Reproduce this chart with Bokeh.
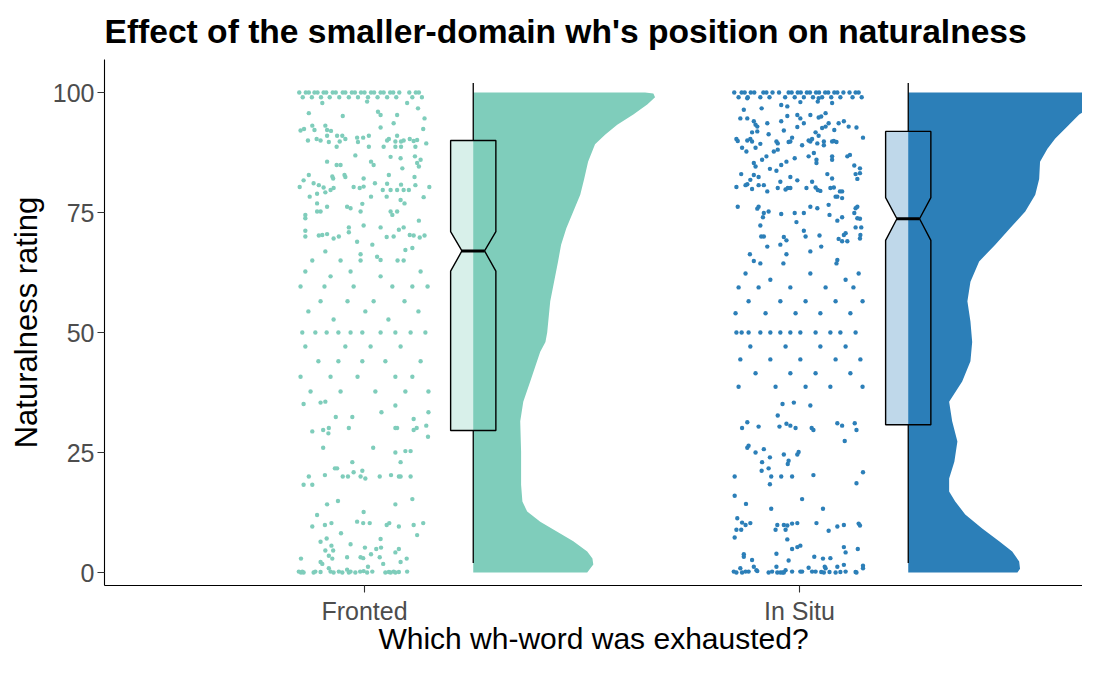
from bokeh.plotting import figure
from bokeh.models import Range1d, FixedTicker
from bokeh.embed import file_html
from bokeh.resources import INLINE

groups = ["Fronted", "In Situ"]
positions = [1, 2]
colors = ["#7fcdbb", "#2c7fb8"]

# raw ratings with their horizontal jitter (offset from the group position)
fronted_points = [
    # band at 100
    (-0.150, 100), (-0.142, 99), (-0.135, 100), (-0.128, 100), (-0.121, 99), (-0.115, 100),
    (-0.108, 100), (-0.100, 99), (-0.094, 100), (-0.088, 100), (-0.080, 99), (-0.073, 100),
    (-0.066, 100), (-0.058, 99), (-0.050, 100), (-0.044, 100), (-0.036, 99), (-0.029, 100),
    (-0.022, 100), (-0.015, 99), (-0.008, 100), (0.000, 100), (0.008, 99), (0.015, 100),
    (0.022, 100), (0.030, 99), (0.037, 100), (0.044, 100), (0.052, 99), (0.059, 100),
    (0.066, 100), (0.073, 99), (0.080, 100), (0.103, 100), (0.110, 99), (0.118, 100),
    (0.125, 100), (0.132, 99),
    # 65 - 99
    (-0.097, 97.8), (0.006, 98.1), (0.098, 97.8), (0.123, 96.7), (-0.128, 95.7), (-0.050, 95.1),
    (0.031, 96.0), (0.037, 95.3), (0.075, 95.3), (0.138, 94.6), (0.067, 93.6), (-0.120, 93.1),
    (-0.090, 93.1), (-0.147, 92.1), (-0.139, 92.4), (-0.115, 92.2), (-0.086, 92.2), (-0.077, 92.0),
    (0.037, 92.7), (0.135, 92.4), (-0.130, 90.0), (-0.110, 90.3), (-0.101, 90.0), (-0.086, 91.0),
    (-0.082, 89.7), (-0.063, 91.0), (-0.057, 89.8), (-0.051, 91.0), (-0.044, 90.3), (-0.017, 90.6),
    (-0.015, 89.7), (-0.003, 90.6), (0.010, 91.0), (0.052, 90.0), (0.056, 90.3), (0.071, 89.8),
    (0.075, 91.0), (0.084, 89.8), (0.090, 90.0), (0.104, 90.3), (0.113, 89.9), (0.121, 90.1),
    (0.142, 89.4), (-0.064, 88.7), (0.010, 88.7), (0.044, 88.7), (0.071, 88.7), (0.084, 88.7),
    (0.117, 88.7), (-0.021, 86.9), (0.060, 86.6), (0.083, 86.3), (0.116, 86.7), (-0.086, 85.6),
    (-0.064, 84.9), (-0.055, 84.9), (0.015, 85.6), (0.021, 84.9), (0.087, 84.2), (0.121, 85.3),
    (0.129, 86.0), (0.125, 84.6), (-0.128, 82.8), (-0.074, 82.5), (-0.046, 82.8), (-0.002, 82.1),
    (0.056, 82.8), (0.115, 82.4), (-0.140, 81.7), (-0.117, 81.1), (-0.105, 80.7), (-0.094, 80.2),
    (-0.072, 82.1), (-0.071, 80.1), (-0.044, 82.4), (-0.025, 80.3), (-0.011, 80.1), (-0.002, 80.4),
    (0.024, 81.1), (0.042, 79.7), (0.052, 81.0), (0.060, 79.7), (0.075, 79.7), (0.084, 80.8),
    (0.090, 79.7), (0.102, 79.7), (0.117, 80.7), (0.149, 80.3), (-0.149, 80.3), (-0.109, 78.9),
    (-0.126, 78.3), (-0.090, 79.2), (-0.078, 79.7), (0.015, 78.3), (0.051, 78.3), (0.083, 77.6),
    (0.092, 76.9), (0.136, 78.2), (-0.109, 76.9), (-0.086, 76.2), (-0.040, 76.2), (-0.032, 75.9),
    (-0.005, 76.8), (-0.009, 75.2), (-0.109, 75.2), (-0.101, 75.2), (0.060, 75.2), (0.064, 74.5),
    (0.075, 75.2), (-0.136, 74.5), (-0.136, 73.8), (-0.036, 71.9), (-0.002, 72.3), (0.037, 71.9),
    (0.079, 71.4), (0.090, 71.9), (0.125, 73.3), (-0.136, 71.2), (-0.136, 70.0), (-0.105, 70.2),
    (-0.097, 70.3), (-0.086, 70.5), (-0.071, 69.6), (-0.059, 70.0), (-0.036, 70.9), (-0.017, 68.9),
    (0.018, 68.3), (0.051, 69.9), (0.067, 70.0), (0.104, 70.3), (0.113, 70.2), (0.127, 69.8),
    (0.138, 70.2), (-0.090, 66.9), (-0.009, 66.3), (0.029, 65.8), (0.037, 65.1), (0.094, 67.2),
    (0.110, 67.6),
    # 36 - 65
    (-0.120, 65.0), (-0.055, 65.0), (-0.009, 65.0), (0.076, 65.0), (0.090, 65.0),
    (-0.136, 62.7), (-0.032, 62.7), (0.129, 62.7), (-0.078, 61.7), (0.037, 61.7),
    (-0.147, 59.6), (-0.092, 59.6), (-0.025, 59.6), (0.064, 59.6), (0.110, 59.6), (0.145, 59.6),
    (-0.101, 56.5), (-0.039, 56.5), (0.021, 56.5), (0.092, 56.5),
    (-0.129, 54.4), (0.002, 54.4), (0.124, 54.4), (-0.071, 52.7), (0.055, 52.7),
    (-0.143, 50), (-0.113, 50), (-0.087, 50), (-0.060, 50), (-0.032, 50), (-0.005, 50),
    (0.037, 50), (0.071, 50), (0.106, 50), (0.140, 50),
    (-0.136, 47.1), (-0.044, 47.1), (0.014, 47.1), (0.083, 47.1),
    (-0.106, 44.0), (-0.060, 44.0), (-0.005, 44.0), (0.048, 44.0), (0.129, 44.0),
    (-0.147, 40.8), (-0.078, 40.8), (-0.016, 40.8), (0.071, 40.8), (0.110, 40.8),
    (-0.124, 37.7), (-0.055, 37.7), (0.025, 37.7), (0.094, 37.7), (0.147, 37.7),
    # 1 - 36
    (-0.140, 35.1), (-0.101, 35.4), (-0.090, 35.6), (0.071, 34.8), (-0.066, 32.4), (-0.028, 32.4),
    (0.039, 33.4), (0.113, 32.0), (0.147, 33.4), (0.142, 30.6), (-0.120, 29.4), (-0.095, 29.7),
    (-0.082, 30.1), (-0.083, 29.0), (-0.036, 30.1), (0.071, 30.1), (0.075, 30.1), (0.113, 29.7),
    (0.120, 30.1), (0.146, 28.3), (-0.095, 26.0), (0.020, 26.0), (0.071, 25.0), (0.094, 25.3),
    (0.106, 25.3), (-0.028, 23.0), (0.083, 23.0), (-0.068, 21.7), (-0.063, 21.7), (-0.091, 20.3),
    (-0.128, 20.0), (-0.050, 20.0), (-0.038, 20.0), (-0.025, 20.9), (-0.009, 20.0), (-0.005, 21.2),
    (0.002, 19.6), (0.035, 20.0), (0.061, 20.3), (0.079, 20.0), (0.083, 20.0), (0.106, 20.0),
    (-0.140, 18.3), (-0.120, 18.3), (-0.086, 14.2), (-0.061, 14.9), (0.071, 14.2), (0.110, 15.3),
    (-0.109, 12.0), (-0.002, 12.6), (-0.120, 9.6), (-0.091, 9.9), (-0.076, 10.3), (-0.017, 10.6),
    (-0.003, 10.3), (0.012, 10.3), (0.051, 9.9), (0.057, 10.3), (0.079, 9.6), (0.113, 9.9),
    (0.135, 10.3), (-0.054, 8.2), (0.121, 7.8), (-0.101, 6.4), (-0.087, 7.1), (-0.076, 5.6),
    (0.037, 7.0), (-0.032, 5.9), (-0.090, 4.6), (-0.072, 4.6), (0.001, 5.2), (0.027, 4.9),
    (0.038, 5.2), (0.071, 4.2), (0.079, 4.9), (-0.146, 2.9), (-0.101, 2.2), (-0.097, 1.8),
    (-0.082, 3.5), (-0.074, 2.9), (-0.040, 3.2), (-0.009, 3.2), (-0.003, 3.0), (0.015, 3.8),
    (0.035, 3.2), (0.043, 1.8), (0.083, 2.2), (0.097, 2.9),
    # band at 0
    (-0.151, 0.2), (-0.146, 0), (-0.143, 0.2), (-0.140, 0), (-0.117, 0), (-0.113, 0.2),
    (-0.101, 0.1), (-0.082, 0.9), (-0.078, 0.2), (-0.071, 0), (-0.059, 0.2), (-0.051, 0),
    (-0.040, 0.6), (-0.036, 0), (-0.032, 0.2), (-0.021, 0), (-0.010, 0.2), (-0.002, 0.3),
    (0.008, 1.2), (0.006, 0), (0.018, 0.2), (0.048, 0), (0.056, 0.1), (0.060, 0),
    (0.067, 0.2), (0.071, 0), (0.079, 0.1), (0.098, 0.2),
]

insitu_points = [
    # band at 100
    (-0.150, 100), (-0.140, 99), (-0.133, 100), (-0.126, 100), (-0.119, 99), (-0.112, 100),
    (-0.104, 100), (-0.090, 99), (-0.083, 100), (-0.076, 100), (-0.069, 99), (-0.062, 100),
    (-0.047, 100), (-0.033, 99), (-0.025, 100), (-0.018, 100), (-0.011, 99), (-0.004, 100),
    (0.003, 100), (0.010, 99), (0.017, 100), (0.024, 100), (0.031, 99), (0.038, 100),
    (0.045, 100), (0.052, 99), (0.059, 100), (0.066, 100), (0.073, 99), (0.080, 100),
    (0.087, 100), (0.094, 99), (0.101, 100), (0.115, 100), (0.122, 99), (0.129, 100),
    (0.136, 100), (0.143, 99),
    # 64 - 99
    (-0.120, 98.8), (-0.087, 96.7), (-0.042, 97.4), (-0.028, 97.1), (0.002, 98.0), (0.042, 98.1),
    (0.044, 98.8), (0.075, 97.8), (-0.128, 96.4), (-0.136, 94.6), (-0.120, 94.6), (-0.105, 94.0),
    (-0.101, 93.3), (-0.097, 92.9), (-0.074, 93.6), (-0.042, 94.0), (-0.028, 95.1), (-0.005, 95.3),
    (0.002, 94.6), (0.010, 93.6), (0.025, 95.3), (0.044, 94.8), (0.050, 95.0), (0.060, 95.7),
    (0.067, 93.6), (0.060, 92.9), (0.052, 92.6), (0.080, 92.2), (0.090, 93.6), (0.102, 94.0),
    (0.113, 92.9), (0.131, 92.7), (-0.109, 91.7), (-0.097, 91.9), (-0.071, 91.3), (-0.036, 92.1),
    (-0.017, 90.6), (-0.005, 92.8), (0.037, 91.7), (0.044, 91.0), (-0.145, 90.3), (-0.142, 89.9),
    (-0.120, 90.0), (-0.113, 90.3), (-0.109, 89.8), (-0.090, 89.3), (-0.053, 89.8), (-0.050, 89.4),
    (-0.025, 89.7), (-0.021, 89.8), (0.006, 89.0), (0.021, 90.0), (0.025, 89.8), (0.029, 90.3),
    (0.041, 89.4), (0.056, 89.8), (0.056, 89.0), (0.075, 89.8), (0.079, 89.9), (0.085, 89.7),
    (0.146, 90.6), (-0.132, 88.5), (-0.122, 87.7), (-0.101, 88.5), (-0.059, 87.7), (-0.050, 88.1),
    (-0.011, 86.3), (0.021, 86.7), (0.033, 87.4), (0.039, 86.0), (0.039, 85.3), (0.075, 86.7),
    (0.075, 86.0), (0.110, 86.7), (0.116, 87.0), (-0.105, 85.3), (-0.101, 84.6), (-0.086, 86.0),
    (-0.076, 86.7), (-0.068, 84.1), (-0.053, 83.7), (-0.042, 84.9), (-0.030, 85.6), (-0.021, 82.4),
    (-0.005, 81.7), (0.029, 81.4), (0.064, 83.0), (0.075, 82.1), (0.126, 84.8), (0.139, 84.2),
    (0.129, 83.0), (0.133, 82.0), (0.139, 83.2), (-0.134, 83.0), (-0.113, 81.8), (-0.105, 82.8),
    (-0.094, 82.4), (-0.120, 80.9), (-0.145, 80.3), (-0.124, 80.7), (-0.109, 79.9), (-0.094, 80.7),
    (-0.082, 80.7), (-0.074, 79.4), (-0.050, 80.1), (-0.044, 81.4), (-0.032, 79.8), (-0.027, 80.1),
    (-0.021, 80.1), (0.016, 80.1), (0.037, 80.2), (0.042, 79.7), (0.048, 79.5), (0.071, 80.1),
    (0.079, 80.2), (0.083, 78.3), (0.087, 78.3), (0.093, 79.4), (0.098, 79.4), (0.098, 78.0),
    (-0.142, 76.2), (-0.097, 75.8), (-0.094, 76.2), (-0.082, 74.9), (-0.084, 74.0), (-0.071, 75.2),
    (-0.042, 74.7), (-0.011, 74.9), (-0.007, 73.0), (0.010, 74.9), (0.025, 76.2), (0.041, 75.9),
    (0.067, 76.6), (0.069, 74.5), (0.087, 73.3), (0.098, 74.0), (0.126, 74.9), (0.129, 75.9),
    (0.133, 76.2), (0.133, 73.8), (0.139, 73.7), (-0.090, 72.3), (-0.088, 70.0), (-0.082, 70.0),
    (-0.074, 67.9), (-0.044, 68.3), (-0.036, 69.9), (-0.030, 69.2), (0.010, 71.2), (0.014, 70.0),
    (0.046, 70.2), (0.050, 67.9), (0.090, 69.5), (0.102, 70.3), (0.106, 70.7), (0.110, 69.0),
    (0.098, 69.0), (0.129, 71.9), (0.142, 71.9), (0.140, 70.3), (0.139, 69.6), (-0.114, 66.3),
    (-0.105, 64.9), (-0.030, 66.3), (0.025, 66.9), (0.087, 65.1),
    # 37 - 64
    (-0.090, 64.4), (-0.037, 64.4), (0.085, 64.4), (-0.124, 62.3), (0.025, 62.3), (0.136, 62.3),
    (-0.067, 61.0), (0.106, 61.0), (-0.140, 59.4), (-0.094, 59.4), (-0.021, 59.4), (0.060, 59.4),
    (0.124, 59.4), (-0.117, 56.5), (-0.044, 56.5), (0.014, 56.5), (0.083, 56.5), (0.145, 56.5),
    (-0.147, 54.0), (-0.078, 54.0), (-0.009, 54.0), (0.048, 54.0), (0.117, 54.0),
    (-0.145, 50), (-0.133, 50), (-0.117, 50), (-0.090, 50), (-0.067, 50), (-0.044, 50),
    (-0.021, 50), (0.002, 50), (0.037, 50), (0.071, 50), (0.094, 50), (0.129, 50),
    (-0.113, 47.1), (-0.032, 47.1), (0.048, 47.1), (0.106, 47.1),
    (-0.136, 44.4), (-0.067, 44.4), (0.002, 44.4), (0.083, 44.4), (0.140, 44.4),
    (-0.101, 41.5), (-0.021, 41.5), (0.037, 41.5), (0.117, 41.5),
    (-0.140, 38.7), (-0.055, 38.7), (0.014, 38.7), (0.071, 38.7), (0.145, 38.7),
    # 1 - 36
    (-0.039, 35.1), (-0.013, 35.4), (0.025, 34.8), (-0.050, 32.7), (-0.120, 31.3), (-0.132, 30.1),
    (-0.094, 30.4), (-0.046, 30.4), (-0.030, 31.0), (-0.021, 30.6), (-0.009, 30.1), (0.028, 30.1),
    (0.032, 29.7), (0.087, 31.1), (0.098, 30.6), (0.127, 31.1), (0.131, 29.7), (0.104, 27.4),
    (-0.120, 26.0), (-0.117, 26.4), (-0.101, 25.0), (-0.082, 25.7), (-0.068, 24.0), (-0.036, 24.6),
    (-0.005, 24.6), (-0.002, 25.1), (-0.086, 23.0), (-0.025, 23.3), (-0.027, 22.6), (-0.087, 21.2),
    (-0.071, 21.7), (-0.149, 20.0), (-0.065, 20.0), (-0.042, 20.0), (-0.017, 20.0), (0.032, 20.3),
    (0.146, 20.9), (0.131, 18.6), (-0.068, 18.4), (-0.149, 16.0), (-0.123, 14.3), (-0.065, 13.3),
    (0.006, 15.3), (0.054, 13.3), (-0.143, 11.3), (-0.132, 10.4), (-0.124, 9.9), (-0.113, 10.3),
    (-0.051, 9.9), (-0.055, 8.9), (-0.036, 9.9), (-0.028, 9.8), (-0.032, 8.9), (-0.017, 10.2),
    (-0.005, 10.3), (0.039, 10.3), (0.067, 8.7), (0.087, 9.6), (0.102, 9.9), (0.136, 10.2),
    (0.139, 9.8), (-0.149, 7.3), (-0.134, 8.9), (-0.145, 8.9), (-0.028, 6.9), (-0.017, 4.9),
    (-0.005, 5.3), (0.002, 5.6), (0.102, 5.3), (0.106, 4.2), (0.134, 4.9), (-0.128, 3.8),
    (-0.128, 3.3), (-0.109, 2.6), (-0.053, 3.9), (-0.025, 2.5), (0.034, 3.3), (0.054, 2.9),
    (0.071, 3.0), (-0.105, 1.2), (-0.099, 0.5), (-0.136, 0.9), (-0.053, 1.2), (-0.032, 0.5),
    (0.021, 1.0), (0.058, 1.2), (0.060, 0.9), (0.087, 1.2), (0.102, 1.6), (0.146, 1.4),
    (0.146, 0.9),
    # band at 0
    (-0.151, 0.2), (-0.145, 0), (-0.132, 0), (-0.124, 0.2), (-0.117, 0.2), (-0.097, 0.3),
    (-0.071, 0), (-0.063, 0.2), (-0.051, 0), (-0.044, 0), (-0.039, 0), (-0.036, 0),
    (-0.017, 0.2), (0.002, 0.2), (0.006, 0.2), (0.029, 0.2), (0.037, 0.2), (0.050, 0.1),
    (0.056, 0), (0.069, 0.1), (0.083, 0), (0.094, 0.1), (0.106, 0.2), (0.129, 0.1), (0.131, 0),
]

# half-violin outline: rating level and density half-width (x units)
fronted_violin_y = [0, 1.7, 2.9, 4.4, 6.5, 8.5, 10.6, 12.7, 14.8, 18.3, 25.2, 31.5, 35.6, 39.8,
                    46, 48, 50, 56.5, 64.8, 68.3, 71.7, 75.2, 78.7, 82, 85.6, 89.2, 91.2, 93.3,
                    95.4, 97.5, 99, 99.8, 100]
fronted_violin_w = [0.262, 0.276, 0.274, 0.262, 0.230, 0.193, 0.154, 0.124, 0.113, 0.110, 0.110,
                    0.108, 0.115, 0.131, 0.154, 0.166, 0.170, 0.177, 0.195, 0.202, 0.214, 0.230,
                    0.246, 0.255, 0.264, 0.280, 0.303, 0.331, 0.368, 0.400, 0.418, 0.414, 0.395]
insitu_violin_y = [0, 0.8, 2.3, 4.4, 6.5, 9.2, 12.1, 14.8, 16.9, 19.6, 23.1, 27.3, 31.5, 35.6,
                   39.8, 44, 48, 52.3, 56.5, 60.6, 64.8, 68.3, 71.7, 75.2, 78.7, 82, 85.6, 88.3,
                   90.4, 92.5, 95.4, 97.5, 99, 99.8, 100]
insitu_violin_w = [0.251, 0.257, 0.255, 0.239, 0.209, 0.170, 0.131, 0.108, 0.094, 0.094, 0.106,
                   0.113, 0.101, 0.094, 0.124, 0.143, 0.147, 0.143, 0.136, 0.143, 0.163, 0.200,
                   0.234, 0.269, 0.292, 0.301, 0.303, 0.320, 0.338, 0.361, 0.393, 0.430, 0.469,
                   0.468, 0.458]

# box statistics: lower whisker, Q1, notch low, median, notch high, Q3, upper whisker
box_low = [2, 2]
box_q1 = [29.6, 30.8]
box_notch_lo = [62.8, 69.2]
box_median = [67.0, 73.7]
box_notch_hi = [71.0, 78.1]
box_q3 = [90.0, 91.9]
box_high = [102, 102]

FONT = "Liberation Sans"
NUDGE = 0.25
BOX_HW = 0.052

p = figure(width=1082, height=657, output_backend="svg", toolbar_location=None,
           x_range=Range1d(0.4023, 2.6506), y_range=Range1d(-2.7, 106.875),
           min_border_left=104, min_border_right=0, min_border_top=58, min_border_bottom=65,
           title="Effect of the smaller-domain wh's position on naturalness")
p.background_fill_color = "white"
p.border_fill_color = "white"
p.outline_line_color = None
p.xgrid.visible = False
p.ygrid.visible = False

p.title.text_font = FONT
p.title.text_font_size = "33.6px"
p.title.text_font_style = "bold"
p.title.text_color = "black"
p.title.align = "left"
p.title.offset = 0
p.title.standoff = 20

for ax in (p.xaxis[0], p.yaxis[0]):
    ax.axis_line_color = "black"
    ax.axis_line_width = 1.1
    ax.major_tick_line_color = "#333333"
    ax.major_tick_line_width = 1.1
    ax.major_tick_out = 7
    ax.major_tick_in = 0
    ax.minor_tick_line_color = None
    ax.major_label_text_font = FONT
    ax.major_label_text_font_size = "25px"
    ax.major_label_text_color = "#4d4d4d"
    ax.major_label_standoff = 3
    ax.axis_label_text_font = FONT
    ax.axis_label_text_font_style = "normal"
    ax.axis_label_text_color = "black"

p.xaxis.ticker = FixedTicker(ticks=positions)
p.xaxis.major_label_overrides = {pos: g for pos, g in zip(positions, groups)}
p.xaxis.major_label_standoff = 4
p.xaxis.axis_label = "Which wh-word was exhausted?"
p.xaxis.axis_label_text_font_size = "30px"
p.xaxis.axis_label_standoff = -6

p.yaxis.ticker = FixedTicker(ticks=[0, 25, 50, 75, 100])
p.yaxis.axis_label = "Naturalness rating"
p.yaxis.axis_label_text_font_size = "31px"
p.yaxis.axis_label_standoff = 6

point_sets = [fronted_points, insitu_points]
violins = [(fronted_violin_y, fronted_violin_w), (insitu_violin_y, insitu_violin_w)]

for i, pos in enumerate(positions):
    col = colors[i]
    pts = point_sets[i]
    p.scatter([pos + d for d, _ in pts], [r for _, r in pts], size=4.4,
              fill_color=col, line_color=None)

    base = pos + NUDGE
    vy, vw = violins[i]
    xs = [base] + [base + w for w in vw] + [base]
    ys = [vy[0]] + list(vy) + [vy[-1]]
    p.patch(xs, ys, fill_color=col, line_color=None)

    # whiskers
    p.segment(x0=[base, base], y0=[box_q3[i], box_q1[i]], x1=[base, base],
              y1=[box_high[i], box_low[i]], line_color="black", line_width=1.3)
    # notched box
    l, r = base - BOX_HW, base + BOX_HW
    nl, nr = base - BOX_HW / 2, base + BOX_HW / 2
    bx = [l, l, nl, l, l, r, r, nr, r, r]
    by = [box_q1[i], box_notch_lo[i], box_median[i], box_notch_hi[i], box_q3[i],
          box_q3[i], box_notch_hi[i], box_median[i], box_notch_lo[i], box_q1[i]]
    p.patch(bx, by, fill_color=col, fill_alpha=0.3, line_color="black", line_width=1.4)
    p.segment(x0=[nl], y0=[box_median[i]], x1=[nr], y1=[box_median[i]],
              line_color="black", line_width=3)

open("out.html", "w").write(file_html(p, INLINE))
